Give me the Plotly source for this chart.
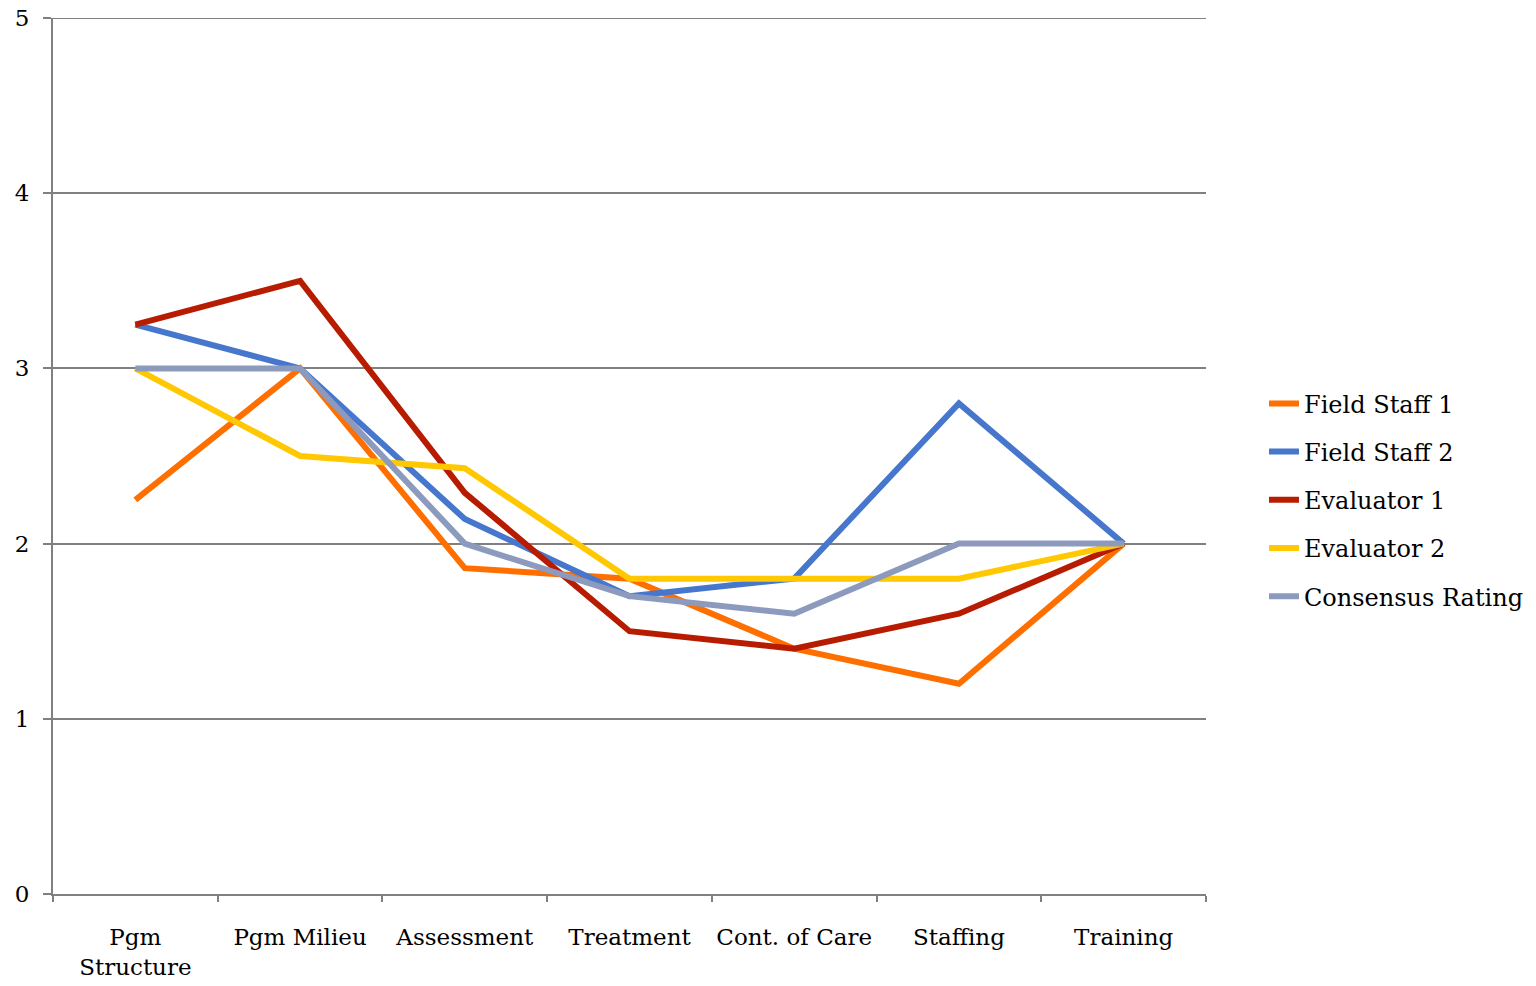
import plotly.graph_objects as go

categories = ["Pgm<br>Structure", "Pgm Milieu", "Assessment", "Treatment", "Cont. of Care", "Staffing", "Training"]
field_staff_1 = [2.25, 3.0, 1.86, 1.8, 1.4, 1.2, 2.0]
field_staff_2 = [3.25, 3.0, 2.14, 1.7, 1.8, 2.8, 2.0]
evaluator_1 = [3.25, 3.5, 2.29, 1.5, 1.4, 1.6, 2.0]
evaluator_2 = [3.0, 2.5, 2.43, 1.8, 1.8, 1.8, 2.0]
consensus = [3.0, 3.0, 2.0, 1.7, 1.6, 2.0, 2.0]
y_ticks = [0, 1, 2, 3, 4, 5]

series = [
    ("Field Staff 1", field_staff_1, "#FF6F00"),
    ("Field Staff 2", field_staff_2, "#4677CC"),
    ("Evaluator 1", evaluator_1, "#B81C00"),
    ("Evaluator 2", evaluator_2, "#FFC800"),
    ("Consensus Rating", consensus, "#8C9ABE"),
]

FONT = "DejaVu Serif"

fig = go.Figure()
for i, (name, vals, color) in enumerate(series):
    fig.add_trace(go.Scatter(
        x=categories, y=vals, name=name, mode="lines",
        line=dict(color=color, width=6),
        legendgroup=f"g{i}",
    ))

# top gridline at the maximum of the value axis
fig.add_shape(type="line", xref="paper", yref="y", x0=0, x1=1,
              y0=max(y_ticks), y1=max(y_ticks),
              line=dict(color="#808080", width=2), layer="below")

fig.update_layout(
    width=1536, height=986,
    margin=dict(l=45, r=338, t=10, b=100, autoexpand=False),
    plot_bgcolor="white", paper_bgcolor="white",
    font=dict(family=FONT, size=23, color="black"),
    showlegend=True,
    legend=dict(
        x=1.0503, y=0.45, xanchor="left", yanchor="middle",
        font=dict(family=FONT, size=24, color="black"),
        tracegroupgap=14, traceorder="grouped",
    ),
    xaxis=dict(
        type="category", tickson="boundaries", ticks="outside", ticklen=6,
        tickcolor="#808080", tickwidth=2, tickangle=0,
        showline=True, linecolor="#808080", linewidth=2,
        showgrid=False, range=[-0.5, 6.5],
        ticklabelstandoff=21, automargin=False,
    ),
    yaxis=dict(
        range=[0, 5], tickvals=y_ticks, ticks="outside", ticklen=8,
        tickcolor="#808080", tickwidth=2,
        showline=True, linecolor="#808080", linewidth=2,
        showgrid=True, gridcolor="#808080", gridwidth=2,
        zeroline=False, ticklabelstandoff=9, automargin=False,
        ticklabeloverflow="allow",
    ),
)

fig.write_html("out.html")
